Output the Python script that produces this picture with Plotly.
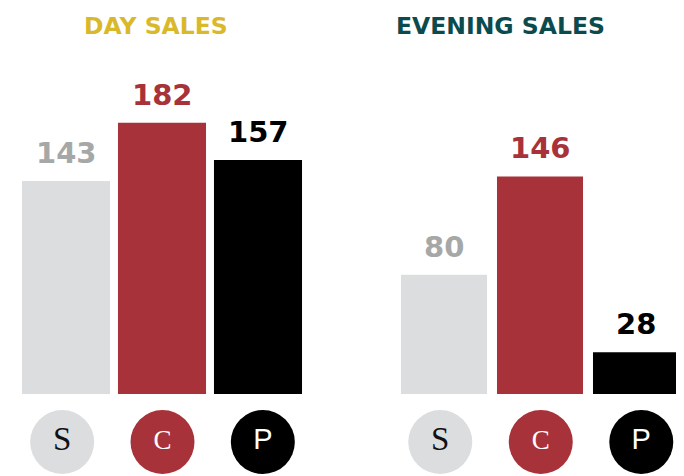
import plotly.graph_objects as go

# data
categories = ["S", "C", "P"]
day_sales = [143, 182, 157]
evening_sales = [80, 146, 28]
panel_titles = ["DAY SALES", "EVENING SALES"]

bar_colors = ["#dcdddf", "#a8323a", "#000000"]
label_colors = ["#a6a8a7", "#a8323a", "#000000"]
title_colors = ["#d9b92a", "#0b4a4d"]
letter_colors = ["#111111", "#ffffff", "#ffffff"]
letter_fonts = ["Liberation Serif", "Liberation Serif", "Liberation Sans"]
letter_sizes = [33, 27, 29]

# page body has an 8px margin, so the figure sits at (8, 8) in the window
OFF = 8
W, H = 684 - OFF, 476 - OFF


def px_x(p):
    return (p - OFF) / W


def px_y(p):
    return 1 - (p - OFF) / H


fig = go.Figure()

panels = [
    ("x", "y", "x3", "y3", day_sales, 0.917),
    ("x2", "y2", "x4", "y4", evening_sales, 0.896),
]
for xa, ya, xa_c, ya_c, vals, bw in panels:
    fig.add_trace(go.Bar(
        x=categories, y=vals, xaxis=xa, yaxis=ya,
        marker=dict(color=bar_colors, line=dict(width=0)),
        width=bw, hoverinfo="skip", showlegend=False,
    ))
    # category badges
    fig.add_trace(go.Scatter(
        x=categories, y=[0, 0, 0], xaxis=xa_c, yaxis=ya_c,
        mode="markers+text", text=categories,
        textposition="middle center",
        marker=dict(size=64, color=bar_colors, line=dict(width=0)),
        textfont=dict(family=letter_fonts, size=letter_sizes, color=letter_colors),
        hoverinfo="skip", showlegend=False, cliponaxis=False,
    ))
    # value labels above bars
    for c, v, col in zip(categories, vals, label_colors):
        fig.add_annotation(
            x=c, y=v, xref=xa, yref=ya, text=str(v), showarrow=False,
            yanchor="bottom", yshift=9,
            font=dict(family="DejaVu Sans", size=29, color=col, weight="bold"),
        )

for t, col, xc in zip(panel_titles, title_colors, [156, 500]):
    fig.add_annotation(
        x=px_x(xc), y=px_y(26), xref="paper", yref="paper", text=t, showarrow=False,
        xanchor="center", yanchor="middle",
        font=dict(family="DejaVu Sans", size=23.5, color=col, weight="bold"),
    )

bar_dom = [px_y(394), px_y(96)]
badge_dom = [px_y(476), px_y(410)]
axis_off = dict(visible=False, showgrid=False, zeroline=False)
fig.update_layout(
    width=W, height=H,
    margin=dict(l=0, r=0, t=0, b=0),
    paper_bgcolor="white", plot_bgcolor="white",
    xaxis=dict(domain=[px_x(18), px_x(306)], range=[-0.5, 2.5], anchor="y", **axis_off),
    xaxis2=dict(domain=[px_x(396), px_x(684)], range=[-0.5, 2.5], anchor="y2", **axis_off),
    xaxis3=dict(domain=[px_x(12), px_x(313)], range=[-0.5, 2.5], anchor="y3", **axis_off),
    xaxis4=dict(domain=[px_x(390), px_x(684)], range=[-0.5, 2.425], anchor="y4", **axis_off),
    yaxis=dict(domain=bar_dom, range=[0, 200], anchor="x", **axis_off),
    yaxis2=dict(domain=bar_dom, range=[0, 200], anchor="x2", **axis_off),
    yaxis3=dict(domain=badge_dom, range=[-1.06, 1], anchor="x3", **axis_off),
    yaxis4=dict(domain=badge_dom, range=[-1.06, 1], anchor="x4", **axis_off),
)

fig.write_html("out.html")
